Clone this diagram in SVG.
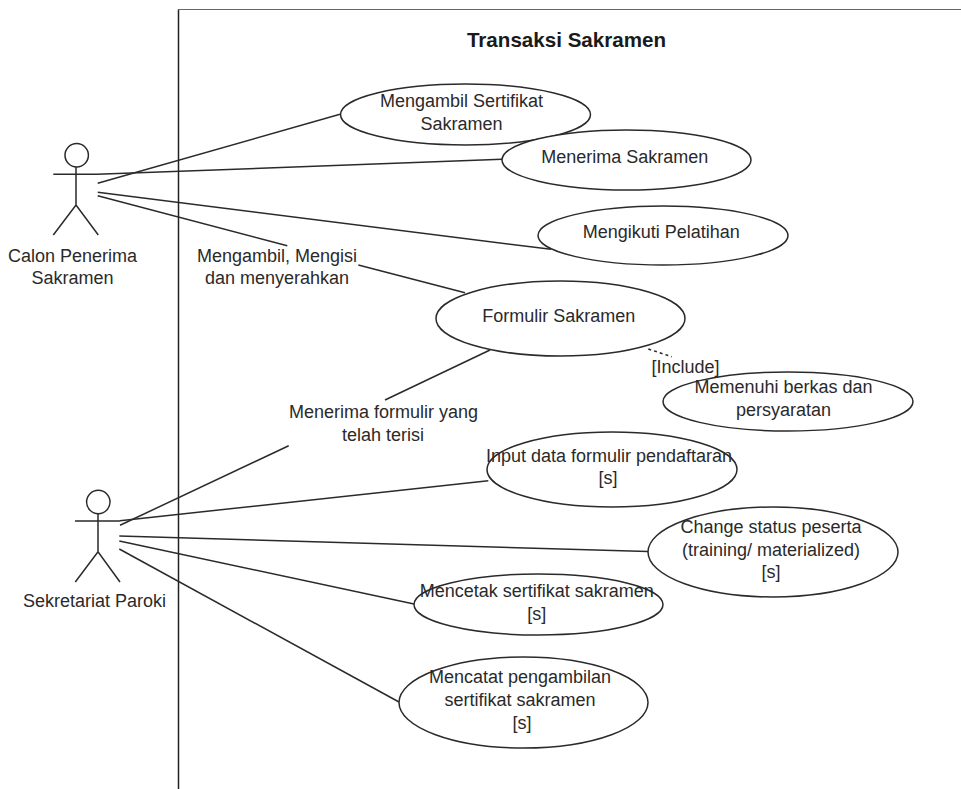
<svg xmlns="http://www.w3.org/2000/svg" width="961" height="789" viewBox="0 0 961 789">
<style>
.s{fill:none;stroke:#2a2a2a;stroke-width:1.5}
.e{fill:#fff;stroke:#2a2a2a;stroke-width:1.5}
text{font-family:"Liberation Sans",Arial,sans-serif;font-size:18px;fill:#2a2a2a;text-anchor:middle}
.t{font-weight:bold;font-size:20.6px;fill:#1a1a1a}
</style>
<rect width="961" height="789" fill="#fff"/>
<g id="frame">
<path d="M178.500 789V9.500" fill="none" stroke="#222" stroke-width="1.500"/>
<path d="M178 9.500H961" fill="none" stroke="#666" stroke-width="1"/>
<text class="t" x="566.500" y="47">Transaksi Sakramen</text>
</g>
<g id="connectors">
<path class="s" d="M97.700 183.300L340 114.300"/>
<path class="s" d="M97 174.300L502 159.300"/>
<path class="s" d="M97.700 192.300L551 249.300"/>
<path class="s" d="M97.700 195.700L287.300 245.700"/>
<path class="s" d="M358.300 265L465 292.700"/>
<path class="s" d="M490 350L385 400"/>
<path class="s" d="M288.700 445.700L120 525.300"/>
<path class="s" d="M120 520.700L488.300 480.700"/>
<path class="s" d="M119.300 536L648 551.500"/>
<path class="s" d="M119.300 541L414 604"/>
<path class="s" d="M119.300 549L399 702"/>
<path class="s" d="M648.300 349L671.700 356.700" stroke-dasharray="3 3"/>
</g>
<g id="actor-calon">
<circle class="s" cx="76.700" cy="155.300" r="11.700"/>
<path class="s" d="M76 167V205M53.300 174.300H97M53.300 235L76 205L98.300 235"/>
<text x="72.500" y="262">Calon Penerima</text>
<text x="72.500" y="284">Sakramen</text>
</g>
<g id="actor-sekretariat">
<circle class="s" cx="98.300" cy="502" r="11.700"/>
<path class="s" d="M98 514V551.700M75 521H120M75.300 582L98 551.700L120 582"/>
<text x="94.500" y="607">Sekretariat Paroki</text>
</g>
<g id="uc-sertifikat">
<ellipse class="e" cx="465.500" cy="114.500" rx="125" ry="30.500"/>
<text x="461.500" y="107">Mengambil Sertifikat</text>
<text x="461.500" y="130">Sakramen</text>
</g>
<g id="uc-menerima">
<ellipse class="e" cx="626.500" cy="160" rx="124.500" ry="30"/>
<text x="624.700" y="163">Menerima Sakramen</text>
</g>
<g id="uc-pelatihan">
<ellipse class="e" cx="663" cy="235.500" rx="125" ry="29.500"/>
<text x="661.300" y="238">Mengikuti Pelatihan</text>
</g>
<g id="uc-formulir">
<ellipse class="e" cx="560.500" cy="318.500" rx="124.500" ry="37.500"/>
<text x="558.700" y="322">Formulir Sakramen</text>
</g>
<g id="uc-berkas">
<ellipse class="e" cx="788" cy="401.500" rx="125" ry="29.500"/>
<text x="783.500" y="393">Memenuhi berkas dan</text>
<text x="783.500" y="416">persyaratan</text>
</g>
<g id="uc-input">
<ellipse class="e" cx="612" cy="469.500" rx="125" ry="37.500"/>
<text x="609" y="462">Input data formulir pendaftaran</text>
<text x="608" y="484">[s]</text>
</g>
<g id="uc-status">
<ellipse class="e" cx="773" cy="552" rx="125" ry="45"/>
<text x="771" y="533">Change status peserta</text>
<text x="771" y="556">(training/ materialized)</text>
<text x="771" y="578">[s]</text>
</g>
<g id="uc-mencetak">
<ellipse class="e" cx="538.500" cy="604.500" rx="124.500" ry="30.500"/>
<text x="536.700" y="597">Mencetak sertifikat sakramen</text>
<text x="536.700" y="620">[s]</text>
</g>
<g id="uc-mencatat">
<ellipse class="e" cx="523.500" cy="702.500" rx="124.500" ry="45.500"/>
<text x="520" y="683">Mencatat pengambilan</text>
<text x="520" y="706">sertifikat sakramen</text>
<text x="522" y="729">[s]</text>
</g>
<g id="labels">
<text x="277" y="262">Mengambil, Mengisi</text>
<text x="277" y="284">dan menyerahkan</text>
<text x="383.500" y="418">Menerima formulir yang</text>
<text x="383" y="441">telah terisi</text>
<text x="685.500" y="373">[Include]</text>
</g>
</svg>
